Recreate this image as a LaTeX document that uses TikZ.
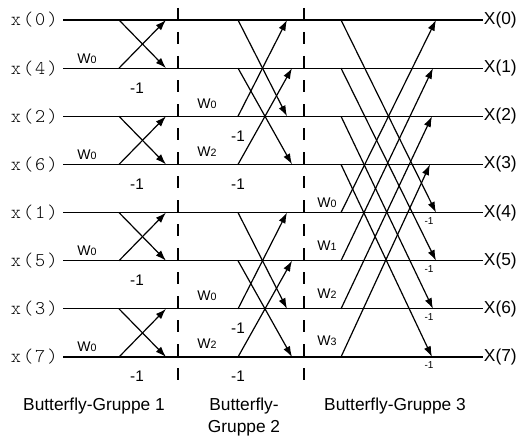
\documentclass[tikz,border=0pt]{standalone}
\usepackage{fontspec}
\setmainfont{Liberation Sans}
\newfontfamily\monof[LetterSpace=10]{Latin Modern Mono Light}
\usetikzlibrary{arrows.meta}
\newcommand\Wt[1]{W{\fontsize{8pt}{8pt}\selectfont #1}}
\tikzset{
  sig/.style={line width=0.9pt},
  arr/.style={line width=0.9pt,-{Latex[length=8pt,width=5.5pt]}},
  sep/.style={line width=0.9pt,dash pattern=on 9pt off 9pt},
  inlab/.style={font={\monof\fontsize{14.5pt}{14.5pt}\selectfont},inner sep=4pt,anchor=east},
  outlab/.style={font={\fontsize{13pt}{13pt}\selectfont},inner sep=0.5pt,anchor=west},
  wlab/.style={font={\fontsize{10.5pt}{10.5pt}\selectfont},inner sep=0pt,anchor=base},
  mlab/.style={font={\fontsize{11.5pt}{11.5pt}\selectfont},inner sep=0pt,anchor=base},
  slab/.style={font={\fontsize{7.5pt}{7.5pt}\selectfont},inner sep=0pt,anchor=base},
  glab/.style={font={\fontsize{13pt}{13pt}\selectfont},inner sep=0pt,anchor=base,align=center}
}
\begin{document}
\begin{tikzpicture}[x=0.75pt,y=-0.75pt]
\useasboundingbox (0,0) rectangle (520,435);
% rows
\foreach \i/\lab in {0/0,1/4,2/2,3/6,4/1,5/5,6/3,7/7} {
  \pgfmathsetmacro\yy{20+48.14*\i}
  \node[inlab] (in\i) at (63,\yy) {x(\lab)};
  \node[outlab] (out\i) at (483,\yy) {X(\i)};
  \draw[sig] (in\i.east) -- (out\i.west);
}
% separators
\coordinate (d1t) at (178,8);
\coordinate (d1b) at (178,381);
\coordinate (d2t) at (304,8);
\coordinate (d2b) at (304,381);
\draw[sep] (d1t) -- (d1b);
\draw[sep] (d2t) -- (d2b);
% group 1
\foreach \a/\b in {0/1,2/3,4/5,6/7} {
  \pgfmathsetmacro\ya{20+48.14*\a}
  \pgfmathsetmacro\yb{20+48.14*\b}
  \coordinate (gaL\a) at (119,\ya);
  \coordinate (gaL\b) at (119,\yb);
  \coordinate (gaR\a) at (166,\ya);
  \coordinate (gaR\b) at (166,\yb);
  \draw[arr] (gaL\a) -- (gaR\b);
  \draw[arr] (gaL\b) -- (gaR\a);
  \node[wlab] (wa\b) at (87,\yb-5) {\Wt{0}};
  \node[mlab] (ma\b) at (137,\yb+25) {-1};
}
% group 2
\foreach \a/\b/\e in {0/2/287,1/3/292,4/6/287,5/7/292} {
  \pgfmathsetmacro\ya{20+48.14*\a}
  \pgfmathsetmacro\yb{20+48.14*\b}
  \coordinate (gbL\a) at (238,\ya);
  \coordinate (gbL\b) at (238,\yb);
  \coordinate (gbR\a) at (\e,\ya);
  \coordinate (gbR\b) at (\e,\yb);
  \draw[arr] (gbL\a) -- (gbR\b);
  \draw[arr] (gbL\b) -- (gbR\a);
}
\foreach \r/\k in {2/0,3/2,6/0,7/2} {
  \pgfmathsetmacro\yr{20+48.14*\r}
  \node[wlab] (wb\r) at (207,\yr-8) {\Wt{\k}};
}
\foreach \r in {2,3,6,7} {
  \pgfmathsetmacro\yr{20+48.14*\r}
  \node[mlab] (mb\r) at (238,\yr+25) {-1};
}
% group 3
\foreach \a/\ed/\eu in {0/436/436,1/436/433,2/433/432,3/432/430} {
  \pgfmathtruncatemacro\b{\a+4}
  \pgfmathsetmacro\ya{20+48.14*\a}
  \pgfmathsetmacro\yb{20+48.14*\b}
  \coordinate (gcL\a) at (341,\ya);
  \coordinate (gcL\b) at (341,\yb);
  \coordinate (gcR\a) at (\eu,\ya);
  \coordinate (gcR\b) at (\ed,\yb);
  \draw[arr] (gcL\a) -- (gcR\b);
  \draw[arr] (gcL\b) -- (gcR\a);
  \node[slab] (mc\b) at (429,\yb+12) {-1};
}
\node[wlab] (wc4) at (327,207) {\Wt{0}};
\node[wlab] (wc5) at (327,250) {\Wt{1}};
\node[wlab] (wc6) at (327,298) {\Wt{2}};
\node[wlab] (wc7) at (327,345) {\Wt{3}};
% group captions
\node[glab] (cap1) at (94,410) {Butterfly-Gruppe 1};
\node[glab] (cap2a) at (244,410) {Butterfly-};
\node[glab] (cap2b) at (244,432) {Gruppe 2};
\node[glab] (cap3) at (395,410) {Butterfly-Gruppe 3};
\end{tikzpicture}
\end{document}
